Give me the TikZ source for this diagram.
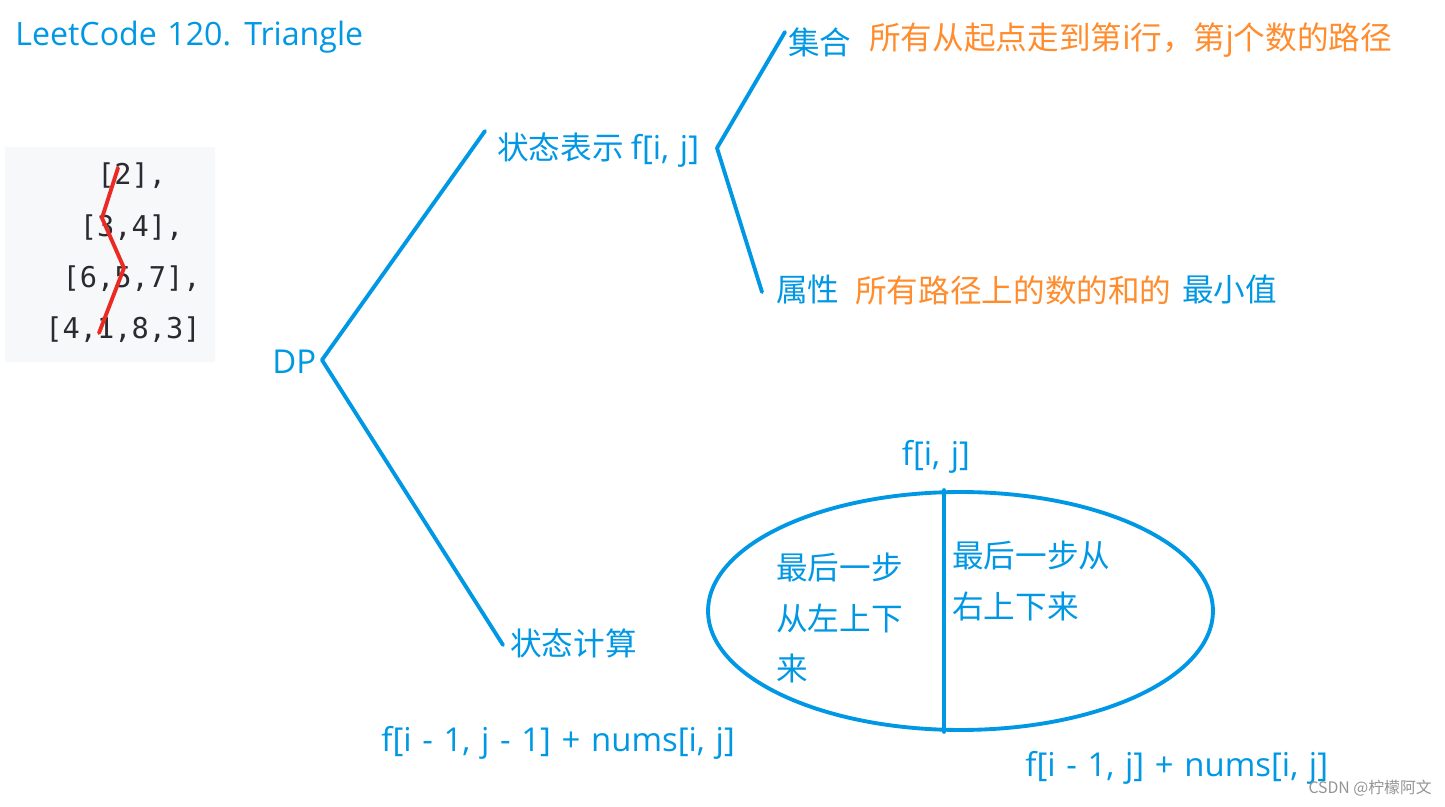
\documentclass[tikz,border=0pt]{standalone}
\usepackage{fontspec}
\usetikzlibrary{shapes.geometric}
\newfontfamily\cjk{Noto Sans CJK SC}
\newfontfamily\latin[Scale=1.04, WordSpace=1.25]{Open Sans}
\newfontfamily\codefont{DejaVu Sans Mono}
\definecolor{dpblue}{RGB}{0,152,228}
\definecolor{dporange}{RGB}{255,140,45}
\definecolor{codebg}{RGB}{246,248,250}
\definecolor{codetxt}{RGB}{40,44,48}
\definecolor{pathred}{RGB}{236,42,36}
\tikzset{
  lbl/.style={font=\cjk\fontsize{18}{29}\selectfont, text=dpblue, inner sep=0pt},
  note/.style={lbl, text=dporange},
  code/.style={font=\codefont\fontsize{16.3}{20}\selectfont, text=codetxt, inner sep=0pt},
  wmark/.style={font=\cjk\fontsize{9}{11}\selectfont, text=black!42, inner sep=0pt},
  branch/.style={draw=dpblue, line width=2.2pt},
  redpath/.style={draw=pathred, line width=2.2pt},
  oval/.style={ellipse, draw=dpblue, line width=2.2pt, minimum width=10.1cm, minimum height=4.76cm, inner sep=0pt}
}
\begin{document}
\begin{tikzpicture}[x=0.02cm, y=-0.02cm, line join=round, line cap=round]
	\useasboundingbox[fill=white] (0,0) rectangle (1445,807);
	\node[lbl, anchor=west, font=\latin\fontsize{17.6}{21}\selectfont] (title) at (15,37) {LeetCode 120. Triangle};
	\fill[codebg] (5,147) rectangle (215,362);
	\foreach \txt/\pad [count=\k from 0] in {{[2],}/3,{[3,4],}/2,{[6,5,7],}/1,{[4,1,8,3]}/0}
		\node[code, anchor=west] (row\k) at ({45+17.3*\pad},{176+51.3*\k}) {\txt};
	\draw[redpath] (118,168) -- (102,218) -- (124,268) -- (99,333);
	\node[lbl, anchor=west] (dp) at (272,362) {\latin DP};
	\node[lbl, anchor=west] (rep) at (497,150) {状态表示 {\latin f[i, j]}};
	\node[lbl, anchor=west] (comp) at (510,643) {状态计算};
	\node[lbl, anchor=west] (set) at (788,42) {集合};
	\node[note, anchor=west] (settxt) at (869,40) {所有从起点走到第{\latin i}行，第{\latin j}个数的路径};
	\node[lbl, anchor=west] (attr) at (776,290) {属性};
	\node[note, anchor=west] (attrtxt) at (855,290) {所有路径上的数的和的};
	\node[lbl, anchor=west] (attrmin) at (1182,290) {最小值};
	\coordinate (dpv) at (322,360);
	\coordinate (repend) at (485,131);
	\coordinate (compend) at (503,645);
	\coordinate (repv) at (717,148);
	\coordinate (setend) at (785,32);
	\coordinate (attrend) at (762,292);
	\draw[branch] (repend) -- (dpv) -- (compend);
	\draw[branch] (setend) -- (repv) -- (attrend);
	\node[lbl] (fij) at (936,457) {\latin f[i, j]};
	\node[oval] (calc) at (960.5,611) {};
	\draw[branch] ([xshift=-0.33cm]calc.north) -- ([xshift=-0.33cm]calc.south);
	\node[lbl, align=left, anchor=west] (fromleft) at (776,618) {最后一步\\从左上下\\来};
	\node[lbl, align=left, anchor=west] (fromright) at (952,581) {最后一步从\\右上下来};
	\node[lbl, anchor=west] (lefteq) at (381,743) {\latin f[i - 1, j - 1] + nums[i, j]};
	\node[lbl, anchor=west] (righteq) at (1025,768) {\latin f[i - 1, j] + nums[i, j]};
	\node[wmark, anchor=east] (csdn) at (1432,788) {CSDN @柠檬阿文};
\end{tikzpicture}
\end{document}
